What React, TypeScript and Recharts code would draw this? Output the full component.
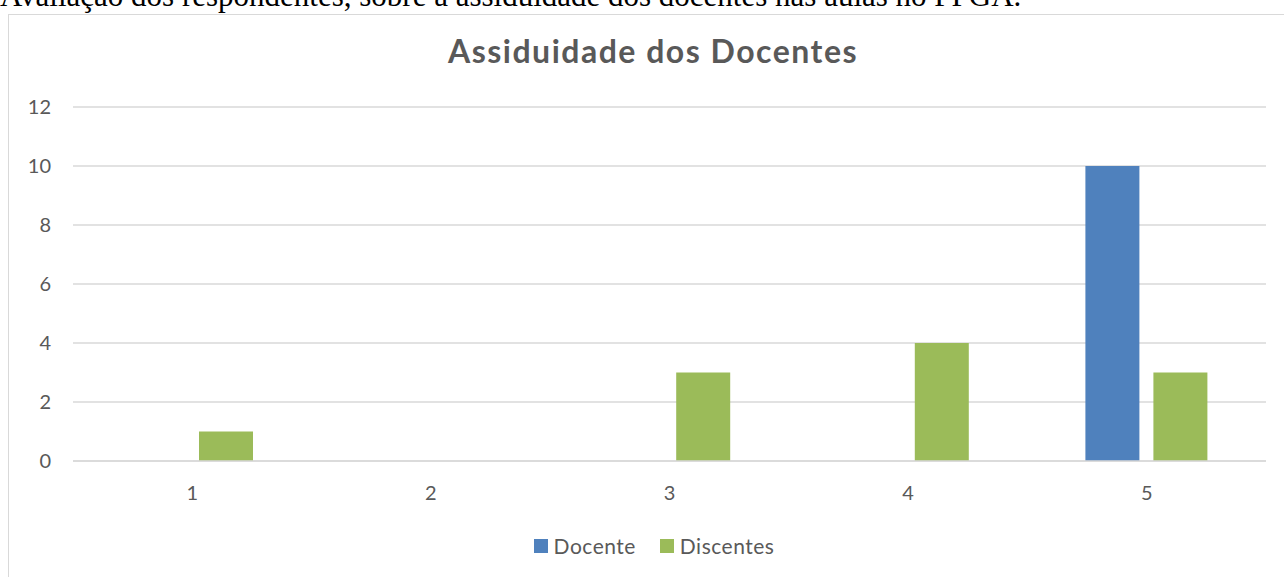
import React from "react"
import { BarChart, Bar, XAxis, YAxis, CartesianGrid } from "recharts"

const categories = ["1", "2", "3", "4", "5"]
const docente = [0, 0, 0, 0, 10]
const discentes = [1, 0, 3, 4, 3]
const yTicks = [0, 2, 4, 6, 8, 10, 12]

const data = categories.map((c, i) => ({ nota: c, Docente: docente[i], Discentes: discentes[i] }))

const gray = "#595959"
const grid = "#d9d9d9"
const font = "Lato, 'Open Sans', sans-serif"

export default function App() {
  return (
    <div style={{ position: "absolute", left: 0, top: 0, width: 1284, height: 577, overflow: "hidden", background: "#fff" }}>
      {/* caption of the document, cut by the page top */}
      <div
        style={{
          position: "absolute",
          left: 0,
          top: -20,
          fontFamily: "'Liberation Serif', serif",
          fontSize: 31,
          lineHeight: 1,
          whiteSpace: "nowrap",
          color: "#000",
        }}
      >
        Avaliação dos respondentes, sobre a assiduidade dos docentes nas aulas no PPGA.
      </div>

      <div
        style={{
          position: "absolute",
          left: 8,
          top: 14,
          width: 1290,
          height: 600,
          border: `1px solid ${grid}`,
          background: "#fff",
        }}
      >
        <BarChart
          width={1290}
          height={562}
          data={data}
          margin={{ top: 92, right: 33, left: 0, bottom: 76 }}
          barSize={54}
          barGap={14}
        >
          <CartesianGrid vertical={false} stroke={grid} strokeWidth={1.5} />
          <XAxis
            dataKey="nota"
            height={40}
            axisLine={{ stroke: grid, strokeWidth: 1.5 }}
            tickLine={false}
            tickMargin={19}
            tick={{ fontSize: 20, fill: gray, fontFamily: font }}
          />
          <YAxis
            width={64}
            domain={[0, 12]}
            ticks={yTicks}
            axisLine={false}
            tickLine={false}
            tickMargin={16}
            tick={{ fontSize: 20, fill: gray, fontFamily: font }}
          />
          <Bar dataKey="Docente" fill="#4f81bd" isAnimationActive={false} />
          <Bar dataKey="Discentes" fill="#9bbb59" isAnimationActive={false} />
        </BarChart>
      </div>

      <div
        style={{
          position: "absolute",
          left: 0,
          top: 35,
          width: 1306,
          textAlign: "center",
          fontFamily: font,
          fontWeight: 700,
          fontSize: 32,
          letterSpacing: 1.5,
          lineHeight: 1,
          color: gray,
        }}
      >
        Assiduidade dos Docentes
      </div>

      <div
        style={{
          position: "absolute",
          left: 0,
          top: 534,
          width: 1308,
          display: "flex",
          justifyContent: "center",
          alignItems: "center",
          fontFamily: font,
          fontSize: 21,
          letterSpacing: 0.5,
          lineHeight: "24px",
          color: gray,
        }}
      >
        <span style={{ display: "inline-block", width: 14, height: 14, background: "#4f81bd", marginRight: 6 }} />
        <span style={{ marginRight: 24 }}>Docente</span>
        <span style={{ display: "inline-block", width: 14, height: 14, background: "#9bbb59", marginRight: 6 }} />
        <span>Discentes</span>
      </div>
    </div>
  )
}
